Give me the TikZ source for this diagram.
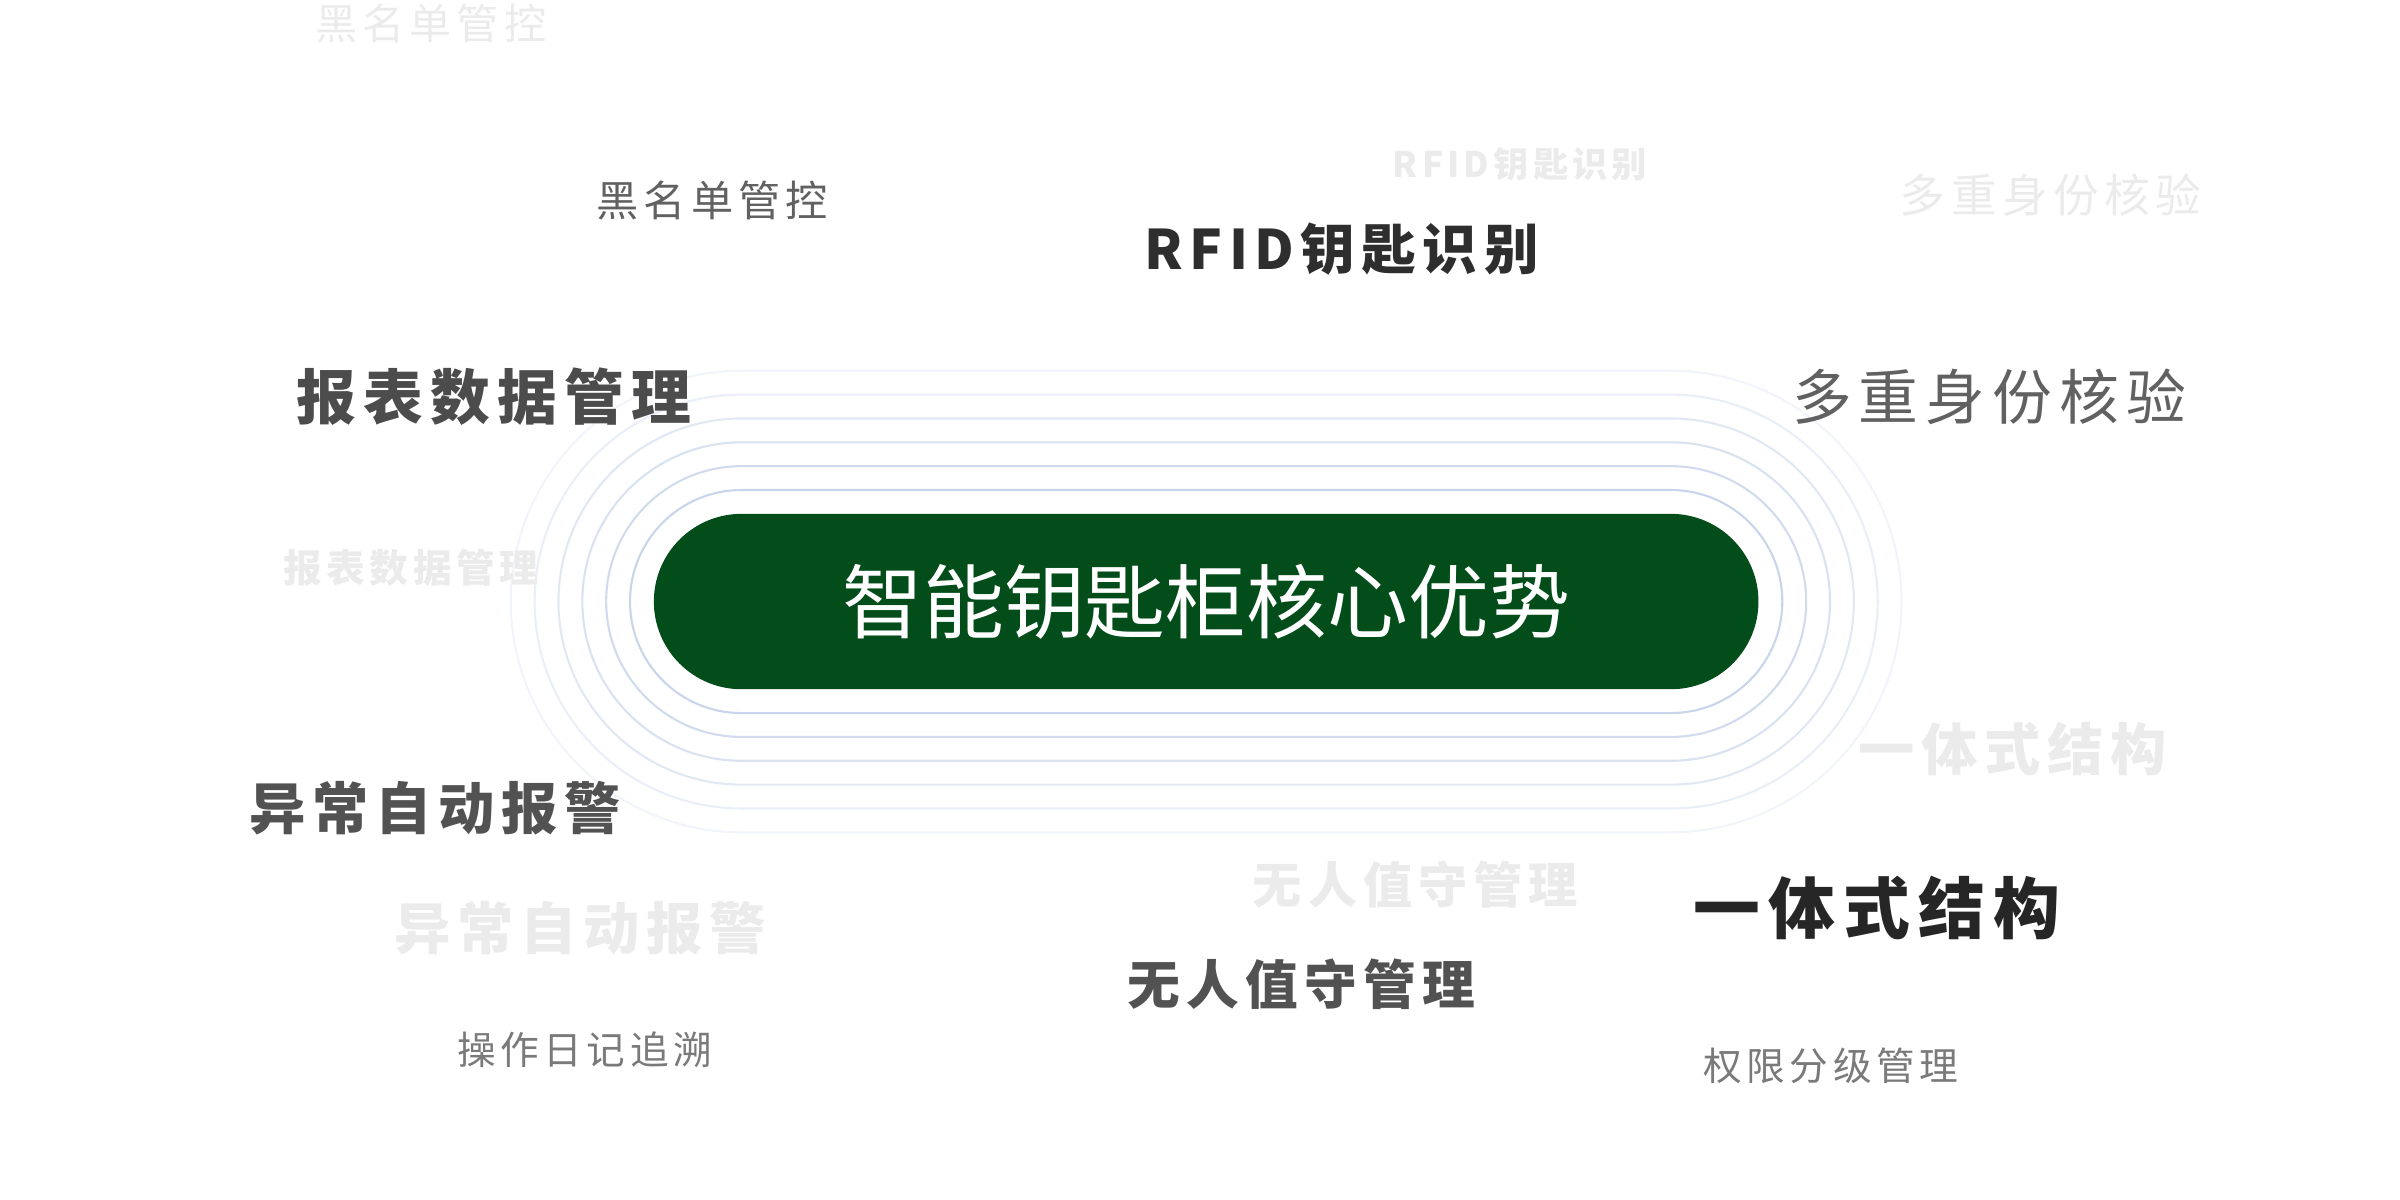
\documentclass[tikz,border=0pt]{standalone}
\usepackage{fontspec}
\newfontfamily\cjk[LetterSpace=12]{Noto Sans CJK SC}
\newfontfamily\cjkc{Noto Sans CJK SC}
\usetikzlibrary{positioning}
\definecolor{pillgreen}{HTML}{024D19}
\definecolor{ringblue}{HTML}{C9D5EA}
\tikzset{lbl/.style={inner sep=0pt, font=\cjk},
         ghost/.style={lbl, text=black!8},
         ring/.style={ringblue, line width=0.6pt}}
\begin{document}
\begin{tikzpicture}[x=0.015385cm, y=-0.015385cm]
\useasboundingbox (0,0) rectangle (1560,780);
% rings round the centre
\foreach \k/\o in {1/100,2/85,3/70,4/55,5/40,6/25}
{
\pgfmathsetmacro{\r}{57+15.5*\k}
\draw[ring, draw opacity=\o/100, rounded corners=\r*0.015385cm]
  (784-359-15.5*\k, 391-\r) rectangle (784+359+15.5*\k, 391+\r);
}
\fill[pillgreen, rounded corners=57*0.015385cm] (425,334) rectangle (1143,448);
\node[inner sep=0pt, text=white, font=\cjkc\fontsize{23}{26}\selectfont] (core) at (784,391) {智能钥匙柜核心优势};

% ghost labels
\node[ghost, font=\cjk\fontsize{12}{14}\selectfont] (g1) at (280,15) {黑名单管控};
\node[ghost, font=\cjk\bfseries\fontsize{10}{12}\selectfont] (g2) at (988,107) {RFID钥匙识别};
\node[ghost, font=\cjk\fontsize{13}{15}\selectfont] (g3) at (1333,127) {多重身份核验};
\node[ghost, font=\cjk\bfseries\fontsize{11}{13}\selectfont] (g4) at (267,369) {报表数据管理};
\node[ghost, font=\cjk\bfseries\fontsize{16}{18}\selectfont] (g5) at (1308,487) {一体式结构};
\node[ghost, font=\cjk\bfseries\fontsize{14}{16}\selectfont] (g6) at (920,575) {无人值守管理};
\node[ghost, font=\cjk\bfseries\fontsize{16}{18}\selectfont] (g7) at (377,603) {异常自动报警};

% labels
\node[lbl, text=black!62, font=\cjk\fontsize{12}{14}\selectfont] (blk) at (463,130) {黑名单管控};
\node[lbl, text=black!82, font=\cjk\bfseries\fontsize{15.5}{18}\selectfont] (rfid) at (872,162) {RFID钥匙识别};
\node[lbl, text=black!70, font=\cjk\bfseries\fontsize{17}{20}\selectfont] (rep) at (321,258) {报表数据管理};
\node[lbl, text=black!62, font=\cjk\fontsize{17}{20}\selectfont] (mid) at (1293,258) {多重身份核验};
\node[lbl, text=black!68, font=\cjk\bfseries\fontsize{16}{19}\selectfont] (alm) at (283,525) {异常自动报警};
\node[lbl, text=black!85, font=\cjk\bfseries\fontsize{19}{22}\selectfont] (one) at (1220,590) {一体式结构};
\node[lbl, text=black!68, font=\cjk\bfseries\fontsize{15}{18}\selectfont] (uns) at (846,640) {无人值守管理};
\node[lbl, text=black!52, font=\cjk\fontsize{11}{13}\selectfont] (log) at (380,682) {操作日记追溯};
\node[lbl, text=black!52, font=\cjk\fontsize{11}{13}\selectfont] (perm) at (1190,693) {权限分级管理};
\end{tikzpicture}
\end{document}
